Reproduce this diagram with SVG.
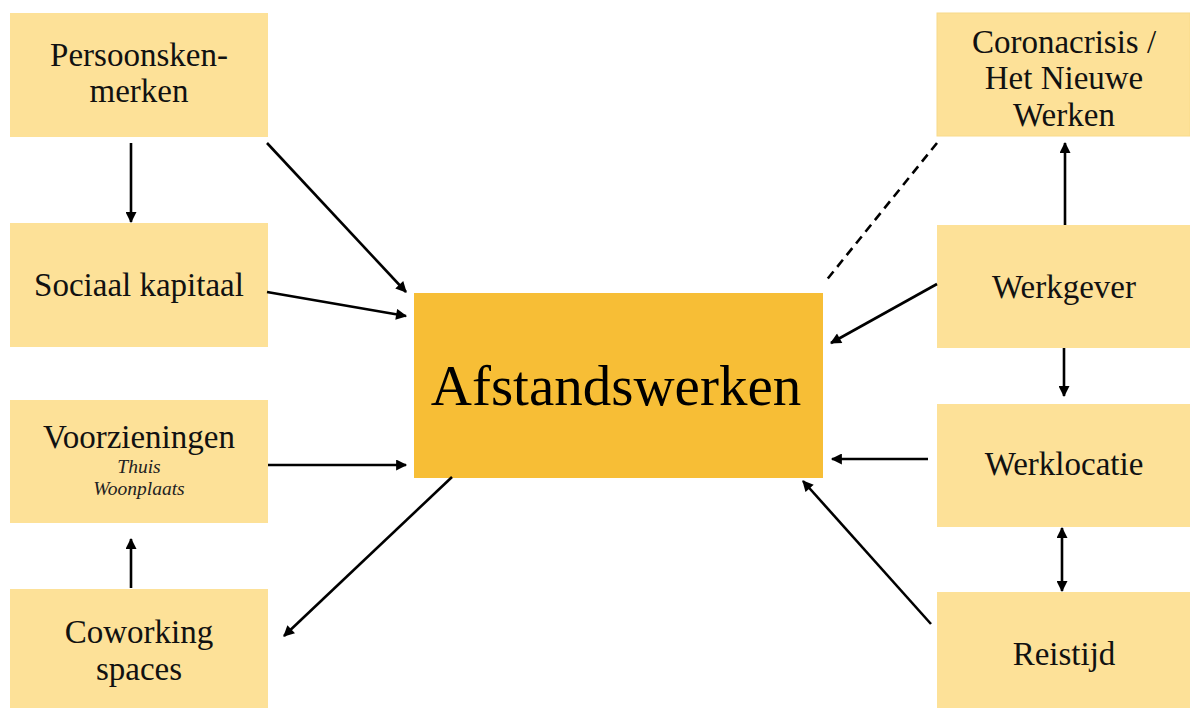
<svg xmlns="http://www.w3.org/2000/svg" width="1190" height="708" viewBox="0 0 1190 708">
  <style>
    .box { fill: #FDE198; }
    .core { fill: #F7BE36; }
    .lbl { font-family: "Liberation Serif", "DejaVu Serif", serif; font-size: 33px; fill: #111; text-anchor: middle; }
    .sub { font-family: "Liberation Serif", "DejaVu Serif", serif; font-size: 19.5px; font-style: italic; fill: #222; text-anchor: middle; }
    .big { font-family: "Liberation Serif", "DejaVu Serif", serif; font-size: 57px; fill: #000; text-anchor: middle; }
    .edge { stroke: #000; stroke-width: 2.6; fill: none; }
    .dash { stroke-dasharray: 9 6; }
  </style>
  <defs>
    <marker id="head" viewBox="0 0 10 10" refX="9" refY="5" markerWidth="12" markerHeight="11" markerUnits="userSpaceOnUse" orient="auto-start-reverse">
      <path d="M0,0 L10,5 L0,10 z" fill="#000"/>
    </marker>
  </defs>

  <rect width="1190" height="708" fill="#fff"/>

  <g id="node-persoonskenmerken">
    <rect class="box" x="10" y="13" width="258" height="124"/>
    <text class="lbl" x="139" y="66">Persoonsken-</text>
    <text class="lbl" x="139" y="102">merken</text>
  </g>
  <g id="node-sociaal-kapitaal">
    <rect class="box" x="10" y="223" width="258" height="124"/>
    <text class="lbl" x="139" y="296">Sociaal kapitaal</text>
  </g>
  <g id="node-voorzieningen">
    <rect class="box" x="10" y="400" width="258" height="123"/>
    <text class="lbl" x="139" y="448">Voorzieningen</text>
    <text class="sub" x="139" y="473">Thuis</text>
    <text class="sub" x="139" y="495">Woonplaats</text>
  </g>
  <g id="node-coworking">
    <rect class="box" x="10" y="589" width="258" height="119"/>
    <text class="lbl" x="139" y="643">Coworking</text>
    <text class="lbl" x="139" y="680">spaces</text>
  </g>

  <g id="node-afstandswerken">
    <rect class="core" x="414" y="293" width="409" height="185"/>
    <text class="big" x="616" y="405">Afstandswerken</text>
  </g>

  <g id="node-coronacrisis">
    <rect class="box" x="937" y="13" width="253" height="123" stroke="#F8DA8A" stroke-width="1"/>
    <text class="lbl" x="1064" y="53">Coronacrisis /</text>
    <text class="lbl" x="1064" y="89">Het Nieuwe</text>
    <text class="lbl" x="1064" y="126">Werken</text>
  </g>
  <g id="node-werkgever">
    <rect class="box" x="937" y="225" width="253" height="123"/>
    <text class="lbl" x="1064" y="298">Werkgever</text>
  </g>
  <g id="node-werklocatie">
    <rect class="box" x="937" y="404" width="253" height="123"/>
    <text class="lbl" x="1064" y="475">Werklocatie</text>
  </g>
  <g id="node-reistijd">
    <rect class="box" x="937" y="592" width="253" height="116"/>
    <text class="lbl" x="1064" y="665">Reistijd</text>
  </g>

  <g id="connectors">
    <line class="edge" x1="267" y1="143" x2="406" y2="292" marker-end="url(#head)"/>
    <line class="edge" x1="267" y1="292" x2="406" y2="316" marker-end="url(#head)"/>
    <line class="edge" x1="268" y1="465" x2="406" y2="465" marker-end="url(#head)"/>
    <line class="edge" x1="452" y1="477" x2="284" y2="636" marker-end="url(#head)"/>
    <line class="edge" x1="131" y1="588" x2="131" y2="539" marker-end="url(#head)"/>
    <line class="edge" x1="131" y1="143" x2="131" y2="222" marker-end="url(#head)"/>
    <line class="edge dash" x1="937" y1="143" x2="825" y2="282"/>
    <line class="edge" x1="937" y1="284" x2="831" y2="343" marker-end="url(#head)"/>
    <line class="edge" x1="1065" y1="225" x2="1065" y2="143" marker-end="url(#head)"/>
    <line class="edge" x1="1064" y1="348" x2="1064" y2="396" marker-end="url(#head)"/>
    <line class="edge" x1="1062" y1="528" x2="1062" y2="591" marker-start="url(#head)" marker-end="url(#head)"/>
    <line class="edge" x1="928" y1="459" x2="832" y2="459" marker-end="url(#head)"/>
    <line class="edge" x1="931" y1="624" x2="803" y2="481" marker-end="url(#head)"/>
  </g>
</svg>
